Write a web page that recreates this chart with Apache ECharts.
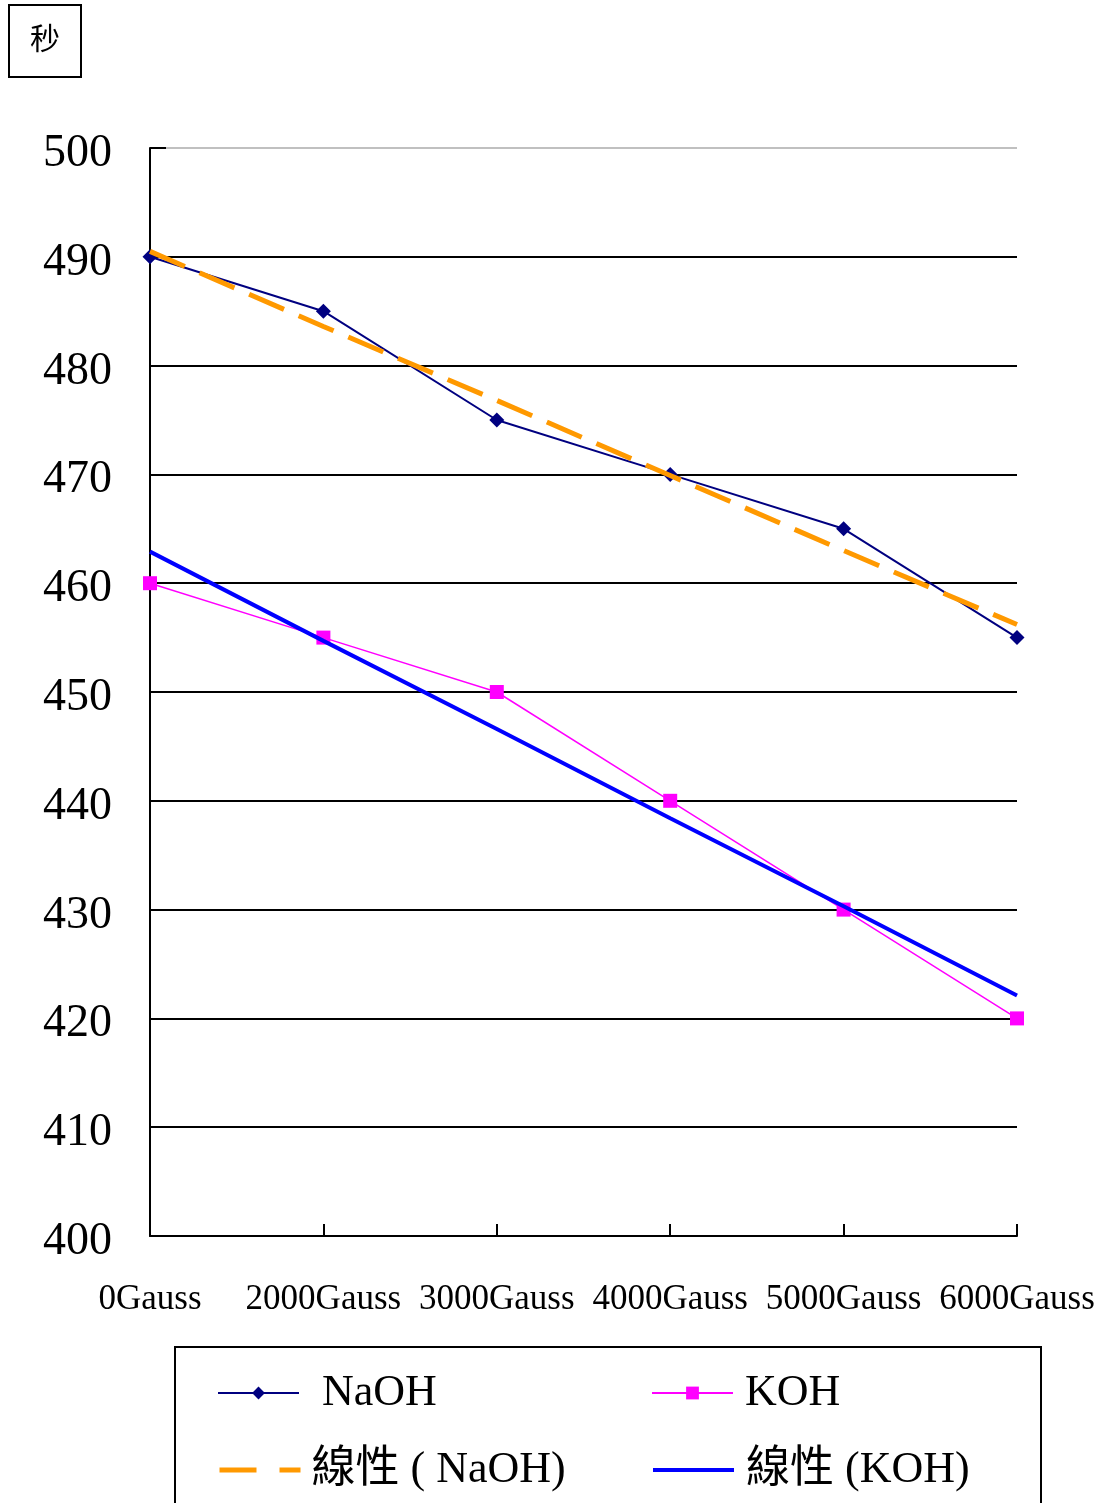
<!DOCTYPE html>
<html>
<head>
<meta charset="utf-8">
<script src="https://cdn.jsdelivr.net/npm/echarts@6/dist/echarts.min.js"></script>
<style>
html,body{margin:0;padding:0;background:#fff;}
#chart{width:1100px;height:1503px;}
</style>
</head>
<body>
<div id="chart"></div>
<script>
const categories = ['0Gauss', '2000Gauss', '3000Gauss', '4000Gauss', '5000Gauss', '6000Gauss'];
const naoh = [490, 485, 475, 470, 465, 455];
const koh = [460, 455, 450, 440, 430, 420];
const naohTrend = [490.5, 483.6, 476.8, 469.9, 463.0, 456.2];
const kohTrend = [462.9, 454.7, 446.6, 438.4, 430.3, 422.1];
const yMin = 400, yMax = 500, yStep = 10;
const unitLabel = '秒';
const names = ['NaOH', 'KOH', '線性 ( NaOH)', '線性 (KOH)'];

const serif = "'Liberation Serif', 'Noto Sans CJK TC', serif";
const chart = echarts.init(document.getElementById('chart'), null, {renderer: 'canvas'});

const gridColors = [];
for (let v = yMin; v <= yMax; v += yStep) gridColors.push(v === yMax ? '#c0c0c0' : '#000000');

function legendAt(name, left, top, gap, extra) {
  return Object.assign({
    data: [name], left: left, top: top, padding: 0, orient: 'horizontal',
    itemWidth: 81, itemHeight: 16, selectedMode: false,
    textStyle: {fontFamily: serif, fontSize: 44, color: '#000', lineHeight: 50, padding: [0, 0, 0, gap]}
  }, extra || {});
}

chart.setOption({
  animation: false,
  backgroundColor: '#ffffff',
  grid: {left: 150, right: 83, top: 148, bottom: 267, containLabel: false},
  legend: [
    legendAt(names[0], 217, 1368, 18),
    legendAt(names[1], 651, 1368, 7),
    legendAt(names[2], 217, 1445, 6, {itemStyle: {opacity: 0}, lineStyle: {width: 5, type: [37, 23], color: '#ff9900'}}),
    legendAt(names[3], 651, 1445, 7, {itemStyle: {opacity: 0}, lineStyle: {width: 4, color: '#0000ff'}})
  ],
  xAxis: {
    type: 'category', data: categories, boundaryGap: false,
    axisLine: {lineStyle: {color: '#000', width: 2}},
    axisTick: {show: true, inside: true, length: 12, lineStyle: {color: '#000', width: 2}},
    axisLabel: {interval: 0, margin: 46, fontFamily: serif, fontSize: 35, color: '#000'},
    splitLine: {show: false}
  },
  yAxis: {
    type: 'value', min: yMin, max: yMax, interval: yStep,
    axisLine: {show: true, lineStyle: {color: '#000', width: 2}},
    axisTick: {show: true, inside: true, length: 16, lineStyle: {color: '#000', width: 2}},
    axisLabel: {
      margin: 38, color: '#000', formatter: '{a|{value}}',
      rich: {a: {fontFamily: serif, fontSize: 46, color: '#000', padding: [12, 0, 0, 0]}}
    },
    splitLine: {show: true, showMinLine: true, showMaxLine: true, lineStyle: {color: gridColors, width: 2}}
  },
  series: [
    {name: names[0], type: 'line', data: naoh, symbol: 'diamond', symbolSize: 15,
     itemStyle: {color: '#000080'}, lineStyle: {color: '#000080', width: 2}, z: 3},
    {name: names[1], type: 'line', data: koh, symbol: 'rect', symbolSize: 14,
     itemStyle: {color: '#ff00ff'}, lineStyle: {color: '#ff00ff', width: 1.5}, z: 3},
    {name: names[2], type: 'line', data: naohTrend, symbol: 'none',
     itemStyle: {color: '#ff9900'}, lineStyle: {color: '#ff9900', width: 5, type: [38, 16]}, z: 4},
    {name: names[3], type: 'line', data: kohTrend, symbol: 'none',
     itemStyle: {color: '#0000ff'}, lineStyle: {color: '#0000ff', width: 4}, z: 4}
  ],
  graphic: [
    {type: 'rect', shape: {x: 9, y: 5, width: 72, height: 72},
     style: {fill: 'none', stroke: '#000', lineWidth: 2}},
    {type: 'text', x: 45, y: 41,
     style: {text: unitLabel, fontFamily: serif, fontSize: 30, fill: '#000', align: 'center', verticalAlign: 'middle'}},
    {type: 'rect', shape: {x: 175, y: 1347, width: 866, height: 200},
     style: {fill: 'none', stroke: '#000', lineWidth: 2}, z: -1}
  ]
});
</script>
</body>
</html>
